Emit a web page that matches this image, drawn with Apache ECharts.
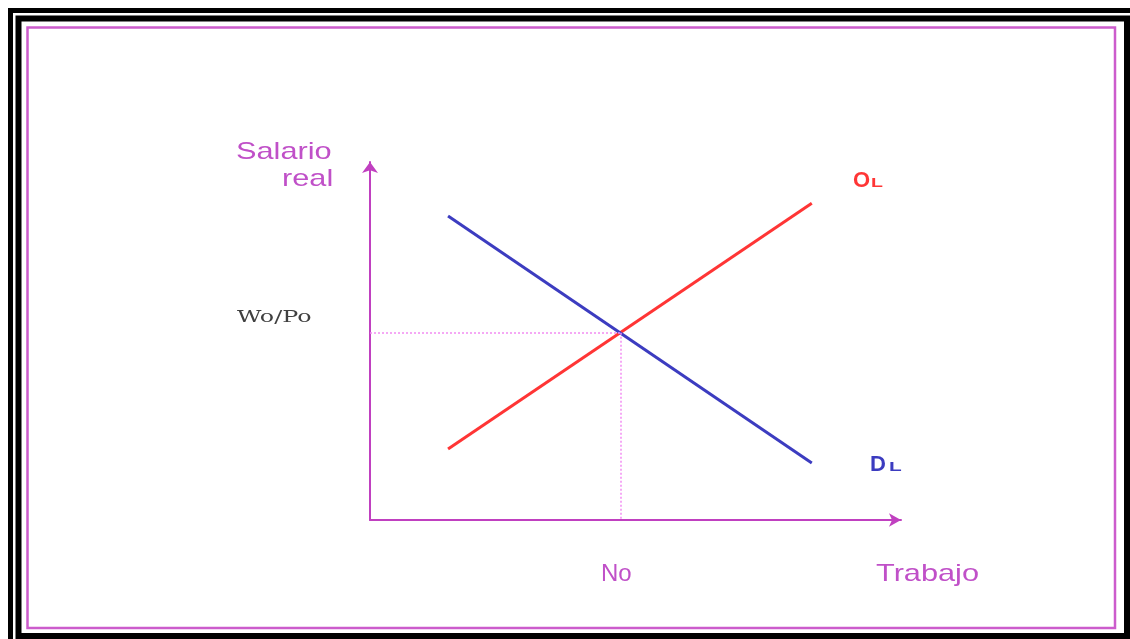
<!DOCTYPE html>
<html>
<head>
<meta charset="utf-8">
<script src="https://cdn.jsdelivr.net/npm/echarts@6/dist/echarts.min.js"></script>
<style>
  html, body { margin: 0; padding: 0; background: #fff; }
  #chart { width: 1130px; height: 639px; }
</style>
</head>
<body>
<div id="chart"></div>
<script>
/* datos (escala 0-100 en ambos ejes) */
var trabajo = [14.7, 83.2];          // extremos de las rectas
var ofertaL = [19.8, 88.5];          // OL
var demandaL = [84.9, 15.9];         // DL
var equilibrio = [47.3, 52.3];       // No , Wo/Po

var magenta = '#c040c0';
var rosa = '#cc5ccc';

var chart = echarts.init(document.getElementById('chart'));

function pares(xs, ys) {
    var out = [];
    for (var i = 0; i < xs.length; i++) {
        out.push([xs[i], ys[i]]);
    }
    return out;
}

function texto(t, x, y, size, color, opts) {
    opts = opts || {};
    return {
        type: 'text',
        x: x,
        y: y,
        scaleX: opts.scaleX || 1,
        style: {
            text: t,
            x: 0,
            y: 0,
            fill: color,
            font: (opts.bold ? 'bold ' : '') + size + 'px ' + (opts.family || '"Liberation Sans", Arial, sans-serif'),
            align: 'left',
            verticalAlign: 'middle'
        },
        silent: true
    };
}

var option = {
    backgroundColor: '#fff',
    animation: false,
    grid: { left: 370, top: 162, width: 531, height: 358 },
    xAxis: {
        type: 'value', min: 0, max: 100,
        axisLine: {
            show: true,
            symbol: ['none', 'arrow'],
            symbolSize: [10, 12],
            lineStyle: { color: magenta, width: 2 }
        },
        axisTick: { show: false },
        axisLabel: { show: false },
        splitLine: { show: false }
    },
    yAxis: {
        type: 'value', min: 0, max: 100,
        axisLine: {
            show: true,
            symbol: ['none', 'arrow'],
            symbolSize: [12, 11],
            lineStyle: { color: magenta, width: 2 }
        },
        axisTick: { show: false },
        axisLabel: { show: false },
        splitLine: { show: false }
    },
    series: [
        {
            name: 'OL',
            type: 'line',
            data: pares(trabajo, ofertaL),
            showSymbol: false,
            lineStyle: { color: '#ff3535', width: 3 },
            markLine: {
                silent: true,
                symbol: 'none',
                label: { show: false },
                lineStyle: { color: '#f28cf2', type: [2, 2], width: 1.5, opacity: 1 },
                data: [
                    [{ coord: [0, equilibrio[1]] }, { coord: [equilibrio[0], equilibrio[1]] }],
                    [{ coord: [equilibrio[0], equilibrio[1]] }, { coord: [equilibrio[0], 0] }]
                ]
            }
        },
        {
            name: 'DL',
            type: 'line',
            data: pares(trabajo, demandaL),
            showSymbol: false,
            lineStyle: { color: '#3c3cc0', width: 3 }
        }
    ],
    graphic: [
        // marcos
        { type: 'rect', shape: { x: 10.5, y: 10.5, width: 1130, height: 640 },
          style: { fill: null, stroke: '#000', lineWidth: 5 }, silent: true },
        { type: 'rect', shape: { x: 18.5, y: 18.5, width: 1108.5, height: 617.5 },
          style: { fill: null, stroke: '#000', lineWidth: 6 }, silent: true },
        { type: 'rect', shape: { x: 27.5, y: 27.5, width: 1087.5, height: 600.5 },
          style: { fill: null, stroke: rosa, lineWidth: 2.5 }, silent: true },
        // textos
        texto('Salario', 236, 152, 24, '#c050c8', { scaleX: 1.28 }),
        texto('real', 282, 179, 24, '#c050c8', { scaleX: 1.28 }),
        texto('Wo/Po', 237, 318, 17, '#404040', { scaleX: 1.4, family: '"DejaVu Serif", serif' }),
        texto('No', 601, 574, 24, '#c050c8'),
        texto('Trabajo', 876, 574, 24, '#c050c8', { scaleX: 1.28 }),
        texto('O', 853, 181, 22, '#ff3535', { bold: true }),
        texto('L', 871, 183.5, 13, '#ff3535', { bold: true, scaleX: 1.5 }),
        texto('D', 870, 465, 22, '#3c3cc0', { bold: true }),
        texto('L', 889, 467.5, 13, '#3c3cc0', { bold: true, scaleX: 1.6 })
    ]
};

chart.setOption(option);
</script>
</body>
</html>
